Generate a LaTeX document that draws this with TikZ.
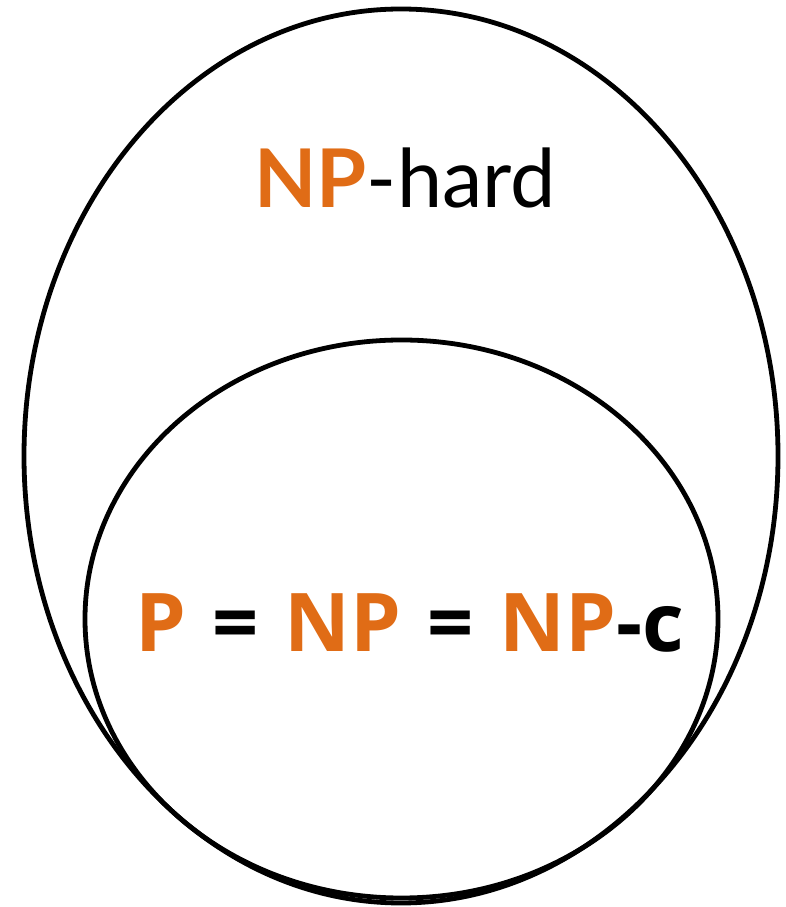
\documentclass[tikz,border=0pt]{standalone}
\usepackage{fontspec}
\setmainfont{Lato}
\newfontfamily\bottomfont{Open Sans}
\definecolor{nporange}{RGB}{224,108,22}
\tikzset{
  setline/.style={draw=black, line width=4.8pt},
  lbl/.style={anchor=base, inner sep=0pt}
}
\newcommand{\eqgap}{\hspace{0.32em}}
\begin{document}
\begin{tikzpicture}[x=1pt,y=1pt]
\useasboundingbox (0,0) rectangle (786,907);
\draw[setline] (401,451) ellipse [x radius=377, y radius=447];
\draw[setline] (401.5,288) ellipse [x radius=316.5, y radius=279];
\node[lbl] (hard) at (405,699) {\fontsize{81}{90}\selectfont\textcolor{nporange}{\bfseries NP}-hard};
\node[lbl] (eq) at (410,255) {\bottomfont\bfseries\fontsize{81}{90}\selectfont\textcolor{nporange}{P}\eqgap=\eqgap\textcolor{nporange}{NP}\eqgap=\eqgap\textcolor{nporange}{NP}-c};
\end{tikzpicture}
\end{document}
